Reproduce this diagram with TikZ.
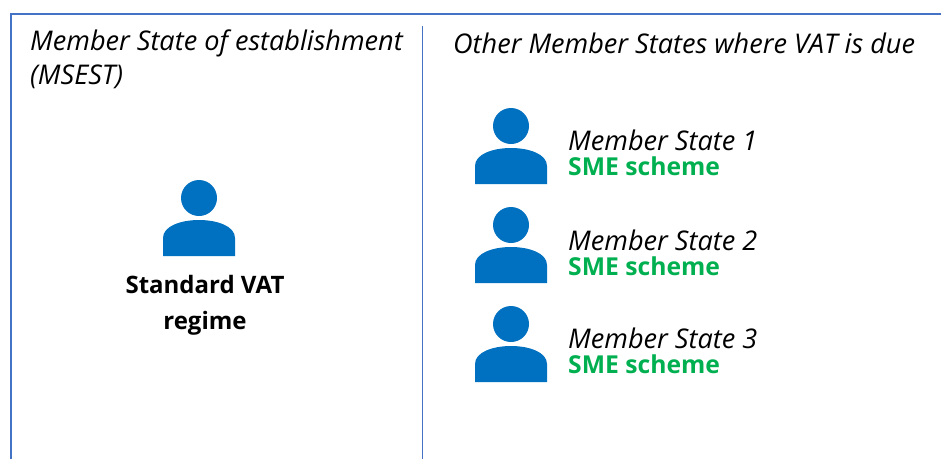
\documentclass[tikz,border=0pt]{standalone}
\usepackage{fontspec}
\setmainfont{Open Sans}
\definecolor{fr}{HTML}{4472C4}
\definecolor{pb}{HTML}{0070C0}
\definecolor{gr}{HTML}{00B050}
\tikzset{x=1pt,y=-1pt,
lab/.style={anchor=west,inner sep=0pt,font=\fontsize{27.1}{30}\selectfont\itshape,text=black},
sme/.style={anchor=west,inner sep=0pt,font=\fontsize{24.7}{28}\selectfont\bfseries,text=gr},
person/.pic={\fill[pb] (0,-20) circle (18);
\fill[pb] (-36,38) -- (-36,20) .. controls (-36,8) and (-18,2) .. (0,2) .. controls (18,2) and (36,8) .. (36,20) -- (36,38) -- cycle;}}
\begin{document}
\begin{tikzpicture}
\useasboundingbox (0,0) rectangle (941,459);
\draw[fr,line width=1.2pt] (11,459) -- (11,14) -- (941,14);
\draw[fr,line width=.7pt] (422,26) -- (422,459);
\node[lab] (a) at (30,43) {Member State of establishment};
\node[lab] (b) at (30,77) {(MSEST)};
\node[lab] (c) at (453,43) {Other Member States where VAT is due};
\pic at (199,218) {person};
\node[align=center,inner sep=0pt,font=\fontsize{24}{36}\selectfont\bfseries] (s) at (205,305) {Standard VAT\\regime};
\pic at (511,146) {person};
\pic at (511,245) {person};
\pic at (511,344) {person};
\node[lab] (m1) at (568,140) {Member State 1};
\node[sme] (s1) at (568,166) {SME scheme};
\node[lab] (m2) at (568,240) {Member State 2};
\node[sme] (s2) at (568,266) {SME scheme};
\node[lab] (m3) at (568,338) {Member State 3};
\node[sme] (s3) at (568,364) {SME scheme};
\end{tikzpicture}
\end{document}
